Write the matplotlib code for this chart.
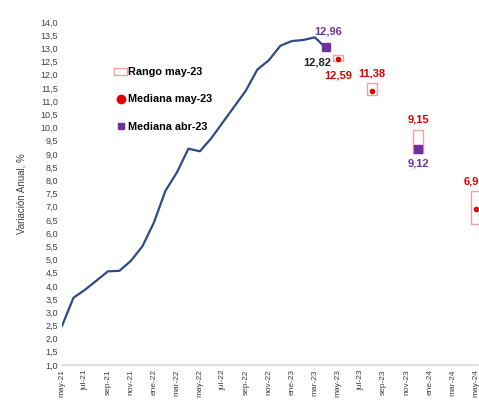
import matplotlib
matplotlib.use("Agg")
import matplotlib.pyplot as plt
from matplotlib.patches import Rectangle
from matplotlib.lines import Line2D

# months counted from may-21 (0)
hist_months = list(range(24))
hist_values = [2.48, 3.55, 3.85, 4.2, 4.55, 4.57, 4.95, 5.5, 6.4, 7.6, 8.3, 9.2,
               9.1, 9.6, 10.2, 10.8, 11.4, 12.2, 12.55, 13.1, 13.28, 13.32, 13.42, 13.0]
last_obs_label = "12,82"

exp_months = [24, 27, 31, 36]
exp_median_may = [12.59, 11.38, 9.15, 6.9]
exp_low = [12.52, 11.23, 9.04, 6.35]
exp_high = [12.74, 11.69, 9.91, 7.6]
exp_labels = ["12,59", "11,38", "9,15", "6,9"]

prev_months = [23, 31]
prev_median_abr = [13.05, 9.2]
prev_labels = ["12,96", "9,12"]

tick_months = list(range(0, 37, 2))
tick_labels = ["may-21", "jul-21", "sep-21", "nov-21", "ene-22", "mar-22", "may-22",
               "jul-22", "sep-22", "nov-22", "ene-23", "mar-23", "may-23", "jul-23",
               "sep-23", "nov-23", "ene-24", "mar-24", "may-24"]

line_color = "#2E4A8A"
red = "#E00000"
purple = "#7030A0"
box_edge = "#F4A0A0"
narrow = ["Liberation Sans Narrow", "Liberation Sans", "DejaVu Sans"]

fig = plt.figure(figsize=(4.79, 4.03), dpi=100)
ax = fig.add_axes([0.1294, 0.0943, 0.8685, 0.851])

ax.plot(hist_months, hist_values, color=line_color, lw=1.6, zorder=3)

for m, lo, hi in zip(exp_months, exp_low, exp_high):
    ax.add_patch(Rectangle((m - 0.45, lo), 0.9, hi - lo, facecolor="white",
                           edgecolor=box_edge, lw=1.0, zorder=2, clip_on=False))
ax.plot(exp_months, exp_median_may, ls="none", marker="o", ms=3, color=red,
        zorder=4, clip_on=False)
ax.plot(prev_months, prev_median_abr, ls="none", marker="s", ms=5.5, color=purple,
        zorder=5, clip_on=False)

# data labels
label_font = dict(ha="center", va="center", fontsize=8, fontweight="bold",
                  family=narrow, textcoords="offset points")
ax.annotate(last_obs_label, (hist_months[-1], hist_values[-1]), xytext=(-6.5, -10),
            color="#222222", **label_font)
ax.annotate(prev_labels[0], (prev_months[0], prev_median_abr[0]), xytext=(1.5, 11.5),
            color=purple, **label_font)
ax.annotate(prev_labels[1], (prev_months[1], prev_median_abr[1]), xytext=(0, -11),
            color=purple, **label_font)
offsets = [(0, -11.5), (0, 13), (0, 22), (-3, 20)]
for m, v, lab, off in zip(exp_months, exp_median_may, exp_labels, offsets):
    ax.annotate(lab, (m, v), xytext=off, color=red, **label_font)

ax.set_xlim(0, 36.2)
ax.set_ylim(1.0, 14.0)
ax.set_yticks([1.0 + 0.5 * i for i in range(27)])
ax.set_yticklabels([f"{1.0 + 0.5 * i:.1f}".replace(".", ",") for i in range(27)],
                   fontsize=6.5, color="#404040", family=narrow)
ax.set_xticks(tick_months)
ax.set_xticklabels(tick_labels, rotation=90, fontsize=6, color="#404040", family=narrow)
ax.tick_params(length=0, pad=3)
for side in ["top", "right", "left"]:
    ax.spines[side].set_visible(False)
ax.spines["bottom"].set_color("#D9D9D9")
ax.spines["bottom"].set_linewidth(1.2)
ax.set_ylabel("Variación Anual, %", fontsize=7, color="#404040", family=narrow,
              labelpad=10)

handles = [Rectangle((0, 0), 1, 1, facecolor="white", edgecolor=box_edge, lw=1.0),
           Line2D([], [], ls="none", marker="o", ms=6, color=red),
           Line2D([], [], ls="none", marker="s", ms=4.5, color=purple)]
labels = ["Rango may-23", "Mediana may-23", "Mediana abr-23"]
ax.legend(handles, labels, loc="upper left", bbox_to_anchor=(0.102, 0.897),
          frameon=False, handlelength=1.2, handleheight=0.6, handletextpad=0.1,
          labelspacing=1.6, prop={"family": narrow, "weight": "bold", "size": 7.8})

fig.savefig("out.png", dpi=100)
